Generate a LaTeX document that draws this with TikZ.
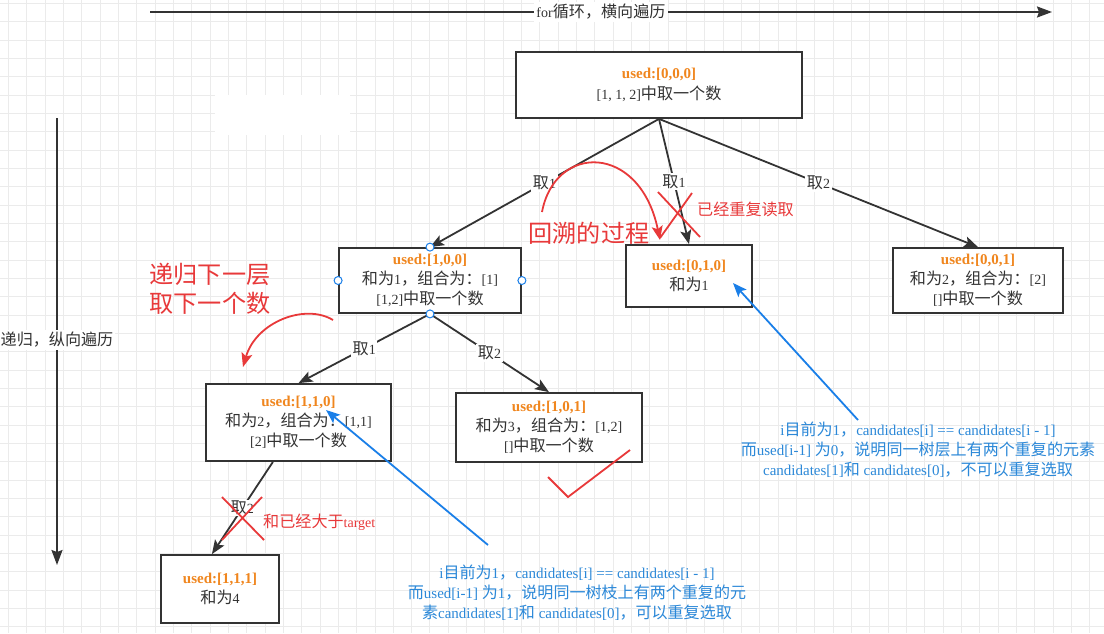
\documentclass[tikz,border=0pt]{standalone}
\usepackage{fontspec}
\setmainfont{Liberation Serif}
\newfontfamily\cjk[Scale=1.15]{Noto Sans CJK SC}
\newfontfamily\cjkb[Scale=1.07]{Noto Sans CJK SC}
\usetikzlibrary{arrows.meta}
\newcommand{\zh}[1]{{\cjk #1}}
\newcommand{\zb}[1]{{\cjkb #1}}
\definecolor{boxline}{HTML}{333333}
\definecolor{usedor}{HTML}{F0861E}
\definecolor{redm}{HTML}{E8393A}
\definecolor{bluem}{HTML}{1A7FE8}
\definecolor{bluet}{HTML}{2B88D8}
\definecolor{gridc}{HTML}{EBEBEB}
\newcommand{\used}[1]{{\bfseries\color{usedor}\fontsize{15}{20}\selectfont used:[#1]}}
\tikzset{
  treebox/.style={draw=boxline, line width=1.8pt, fill=white, align=center, inner sep=0pt,
    font=\fontsize{14}{20}\selectfont, text=boxline},
  edge/.style={draw=boxline, line width=1.8pt, -{Stealth[length=14pt,width=11pt,inset=3pt]}},
  elabel/.style={fill=white, inner sep=1.5pt, font=\fontsize{14}{16}\selectfont, text=boxline},
  redline/.style={draw=redm, line width=1.8pt},
  redarrow/.style={draw=redm, line width=1.8pt, -{Stealth[length=14pt,width=11pt,inset=3pt]}},
  redtext/.style={text=redm, inner sep=0pt},
  bluearrow/.style={draw=bluem, line width=1.8pt, -{Stealth[length=14pt,width=11pt,inset=3pt]}},
  bluetext/.style={text=bluet, align=center, inner sep=0pt, font=\fontsize{15}{20}\selectfont},
  handle/.style={circle, draw=bluem, fill=white, line width=1pt, minimum size=8pt, inner sep=0pt},
  axis/.style={draw=boxline, line width=1.8pt, -{Stealth[length=15pt,width=11pt,inset=2pt]}},
  axlabel/.style={fill=white, inner sep=2pt, font=\fontsize{14}{16}\selectfont, text=boxline}
}
\begin{document}
\begin{tikzpicture}[x=1pt,y=-1pt]
\useasboundingbox (0,0) rectangle (1104,633);
\fill[white] (0,0) rectangle (1104,633);
% background grid
\foreach \i in {0,...,60} {\draw[gridc, line width=0.8pt] ({8.3+\i*18.33},0) -- ({8.3+\i*18.33},633);}
\foreach \j in {0,...,34} {\draw[gridc, line width=0.8pt] (0,{3.4+\j*18.33}) -- (1104,{3.4+\j*18.33});}
\fill[white] (215,95) rectangle (350,135);

% axes
\coordinate (tA) at (150,12);
\coordinate (tB) at (1052,12);
\draw[axis] (tA) -- (tB) node[axlabel, pos=0.5] (tlab) {for\zh{循环，横向遍历}};
\coordinate (lA) at (57,118);
\coordinate (lB) at (57,565);
\draw[axis] (lA) -- (lB);
\node[axlabel] (llab) at (57,340) {\zh{递归，纵向遍历}};

% nodes
\node[treebox, minimum width=286pt, minimum height=66pt] (root) at (659,85)
  {\used{0,0,0}\\[1pt]{}[1, 1, 2]\zh{中取一个数}};
\node[treebox, minimum width=182pt, minimum height=65pt] (n100) at (430,280.5)
  {\used{1,0,0}\\\zh{和为}1\zh{，组合为：}[1]\\{}[1,2]\zh{中取一个数}};
\node[treebox, minimum width=126pt, minimum height=62pt] (n010) at (689,276)
  {\used{0,1,0}\\\zh{和为}1};
\node[treebox, minimum width=170pt, minimum height=65pt] (n001) at (978,280.5)
  {\used{0,0,1}\\\zh{和为}2\zh{，组合为：}[2]\\{}[]\zh{中取一个数}};
\node[treebox, minimum width=185pt, minimum height=77pt] (n110) at (298.5,422.5)
  {\used{1,1,0}\\\zh{和为}2\zh{，组合为：}[1,1]\\{}[2]\zh{中取一个数}};
\node[treebox, minimum width=186pt, minimum height=69pt] (n101) at (549,427.5)
  {\used{1,0,1}\\\zh{和为}3\zh{，组合为：}[1,2]\\{}[]\zh{中取一个数}};
\node[treebox, minimum width=118pt, minimum height=68pt] (n111) at (220,589)
  {\used{1,1,1}\\\zh{和为}4};

% edges
\draw[edge] (root.south) -- (n100.north) node[elabel, pos=0.5] (l1) {\zh{取}1};
\draw[edge] (root.south) -- (n010.north) node[elabel, pos=0.5] (l2) {\zh{取}1};
\draw[edge] (root.south) -- (n001.north) node[elabel, pos=0.5] (l3) {\zh{取}2};
\draw[edge] (n100.south) -- (n110.north) node[elabel, pos=0.5] (l4) {\zh{取}1};
\draw[edge] (n100.south) -- (n101.north) node[elabel, pos=0.5] (l5) {\zh{取}2};
\draw[edge] (n110.237.5) -- (n111.103) node[elabel, pos=0.5, inner sep=0.5pt] (l6) {\zh{取}2};

% handles on n100
\node[handle] (h1) at (n100.north) {};
\node[handle] (h2) at (n100.west) {};
\node[handle] (h3) at (n100.east) {};
\node[handle] (h4) at (n100.south) {};

% red annotations
\coordinate (rbA) at (542,212);
\coordinate (rbB) at (660,240);
\draw[redarrow] (rbA) .. controls (555,143) and (640,143) .. (rbB);
\node[redtext, font=\cjk\fontsize{21}{24}\selectfont] (huisu) at (589,233) {回溯的过程};
\coordinate (x1a) at (658,192); \coordinate (x1b) at (700,237);
\coordinate (x2a) at (692,193); \coordinate (x2b) at (660,238);
\draw[redline] (x1a) -- (x1b);
\draw[redline] (x2a) -- (x2b);
\node[redtext, anchor=west, font=\fontsize{14}{16}\selectfont] (dup) at (697,209) {\zh{已经重复读取}};

\node[redtext, font=\cjk\fontsize{21}{24}\selectfont] (dg1) at (210,274) {递归下一层};
\node[redtext, font=\cjk\fontsize{21}{24}\selectfont] (dg2) at (210,303) {取下一个数};
\coordinate (rcA) at (333,320);
\coordinate (rcB) at (243,367);
\draw[redarrow] (rcA) .. controls (305,303) and (256,322) .. (rcB);

\coordinate (x3a) at (222,497); \coordinate (x3b) at (264,540);
\coordinate (x4a) at (262,497); \coordinate (x4b) at (222,540);
\draw[redline] (x3a) -- (x3b);
\draw[redline] (x4a) -- (x4b);
\node[redtext, anchor=west, font=\fontsize{14}{16}\selectfont] (gt) at (263,522) {\zh{和已经大于}target};

\coordinate (ck1) at (548,477); \coordinate (ck2) at (568,497); \coordinate (ck3) at (630,450);
\draw[redline] (ck1) -- (ck2) -- (ck3);

% blue annotations
\node[bluetext] (b1) at (918,450)
  {i\zb{目前为}1\zb{，}candidates[i] == candidates[i - 1]\\
   \zb{而}used[i-1] \zb{为}0\zb{，说明同一树层上有两个重复的元素}\\
   candidates[1]\zb{和} candidates[0]\zb{，不可以重复选取}};
\node[bluetext] (b2) at (577,593)
  {i\zb{目前为}1\zb{，}candidates[i] == candidates[i - 1]\\
   \zb{而}used[i-1] \zb{为}1\zb{，说明同一树枝上有两个重复的元}\\
   \zb{素}candidates[1]\zb{和} candidates[0]\zb{，可以重复选取}};
\coordinate (ba1) at (858,420); \coordinate (bb1) at (733,283);
\draw[bluearrow] (ba1) -- (bb1);
\coordinate (ba2) at (488,545); \coordinate (bb2) at (326,410);
\draw[bluearrow] (ba2) -- (bb2);
\end{tikzpicture}
\end{document}
